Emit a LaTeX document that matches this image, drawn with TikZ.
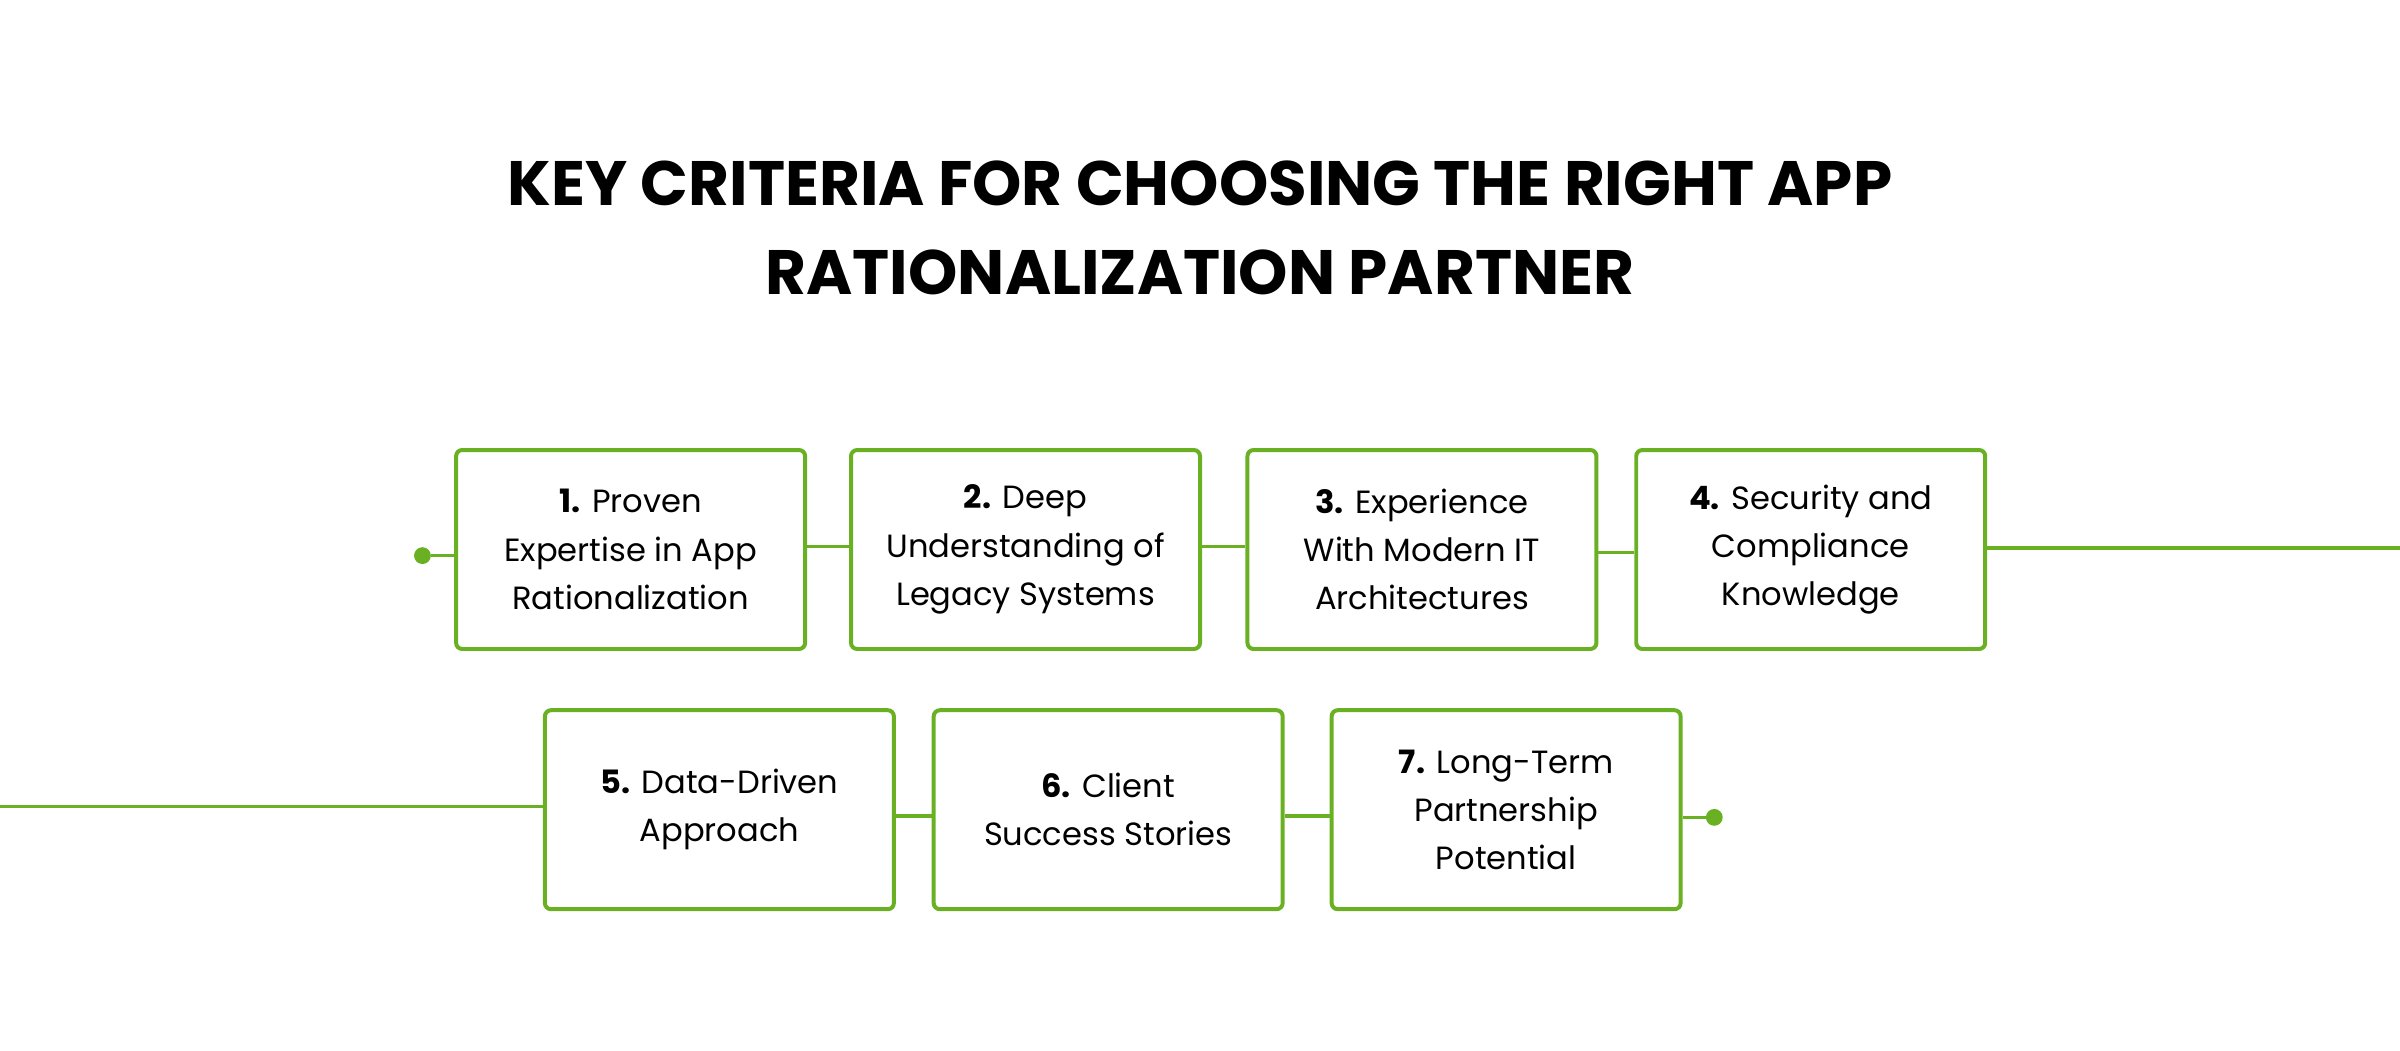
\documentclass[tikz,border=0pt]{standalone}
\usepackage{fontspec}
\setmainfont{Poppins}
\definecolor{grn}{HTML}{6AB023}
\begin{document}
\begin{tikzpicture}[x=1pt,y=-1pt,
  box/.style={draw=grn,line width=2.6pt,rounded corners=4pt,minimum width=228pt,minimum height=130pt,align=center,font=\fontsize{21}{31.5}\selectfont,text=black},
  ln/.style={draw=grn,line width=2.2pt},
  dotc/.style={circle,fill=grn,inner sep=0pt,minimum size=11pt}]
\useasboundingbox (0,0) rectangle (1568,686);
\node[font=\fontsize{41}{58}\selectfont\bfseries,align=center] (title) at (784,149) {KEY CRITERIA FOR CHOOSING THE RIGHT APP\\RATIONALIZATION PARTNER};
\node[box] (b1) at (412,359) {\textbf{1.} Proven\\Expertise in App\\Rationalization};
\node[box] (b2) at (670,359) {\textbf{2.} Deep\\Understanding of\\Legacy Systems};
\node[box] (b3) at (929,359) {\textbf{3.} Experience\\With Modern IT\\Architectures};
\node[box] (b4) at (1183,359) {\textbf{4.} Security and\\Compliance\\Knowledge};
\node[box] (b5) at (470,529) {\textbf{5.} Data-Driven\\Approach};
\node[box] (b6) at (724,529) {\textbf{6.} Client\\Success Stories};
\node[box] (b7) at (984,529) {\textbf{7.} Long-Term\\Partnership\\Potential};
\node[dotc] (d1) at (276,363) {};
\node[dotc] (d2) at (1120,534) {};
\coordinate (r1) at (1568,358);
\coordinate (l2) at (0,527);
\draw[ln] (d1) -- (d1 -| b1.west);
\draw[ln] (b1.east |- 0,357) -- (b2.west |- 0,357);
\draw[ln] (b2.east |- 0,357) -- (b3.west |- 0,357);
\draw[ln] (b3.east |- 0,361) -- (b4.west |- 0,361);
\draw[ln] (b4.east |- r1) -- (r1);
\draw[ln] (l2) -- (l2 -| b5.west);
\draw[ln] (b5.east |- 0,533) -- (b6.west |- 0,533);
\draw[ln] (b6.east |- 0,533) -- (b7.west |- 0,533);
\draw[ln] (b7.east |- d2) -- (d2);
\end{tikzpicture}
\end{document}
